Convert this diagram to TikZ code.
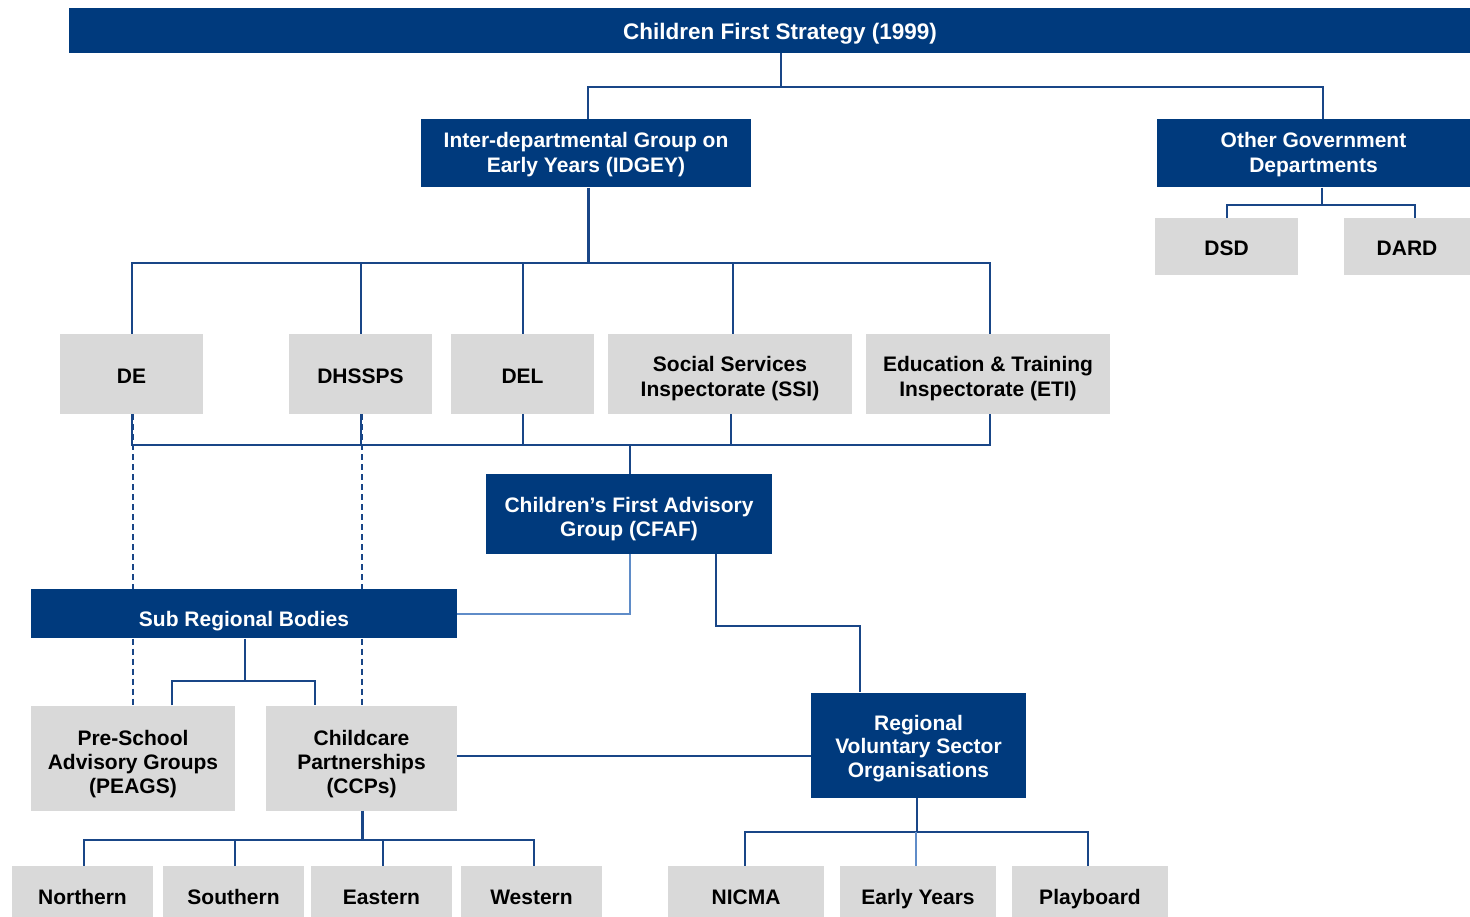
\documentclass[tikz,border=0pt]{standalone}
\usepackage{fontspec}
\setmainfont{Liberation Sans}
\definecolor{navy}{RGB}{0,58,125}
\definecolor{lgray}{RGB}{217,217,217}
\definecolor{lnc}{RGB}{25,70,135}
\definecolor{ltb}{RGB}{95,140,200}
\newcommand\ntx[2]{\raisebox{-#1}[0pt][0pt]{\begin{tabular}[t]{@{}c@{}}#2\end{tabular}}}
\begin{document}
\begin{tikzpicture}[x=1pt,y=-1pt,
  bx/.style={rectangle, inner sep=0pt, font=\fontsize{21}{24.5}\selectfont\bfseries},
  dk/.style={bx, fill=navy, text=white},
  gr/.style={bx, fill=lgray, text=black},
  ln/.style={draw=lnc, line width=2pt},
  tk/.style={draw=lnc, line width=3pt},
  lt/.style={draw=ltb, line width=2pt},
  dsh/.style={draw=lnc, line width=2pt, dash pattern=on 6pt off 4pt}]
\useasboundingbox (0,0) rectangle (1470,917);
% nodes
\node[dk, minimum width=1401pt, minimum height=45pt, font=\fontsize{22.5}{26}\selectfont\bfseries] (title) at (769.5,30.8) {\ntx{9.2pt}{\hspace*{21pt}Children First Strategy (1999)}};
\node[dk, minimum width=330pt, minimum height=68pt, font=\fontsize{21}{25}\selectfont\bfseries] (idgey) at (586,153.5) {\ntx{-6pt}{Inter-departmental Group on\\Early Years (IDGEY)}};
\node[dk, minimum width=313pt, minimum height=68pt, font=\fontsize{21}{25}\selectfont\bfseries] (ogd) at (1313.5,153.5) {\ntx{-6pt}{Other Government\\Departments}};
\node[gr, minimum width=143pt, minimum height=57pt] (dsd) at (1226.5,246.5) {\ntx{9pt}{DSD}};
\node[gr, minimum width=126pt, minimum height=57pt] (dard) at (1407,246.5) {\ntx{9pt}{DARD}};
\node[gr, minimum width=143pt, minimum height=80pt] (de) at (131.5,374) {\ntx{9.8pt}{DE}};
\node[gr, minimum width=143pt, minimum height=80pt] (dhss) at (360.5,374) {\ntx{9.8pt}{DHSSPS}};
\node[gr, minimum width=143pt, minimum height=80pt] (del) at (522.5,374) {\ntx{9.8pt}{DEL}};
\node[gr, minimum width=244pt, minimum height=80pt, font=\fontsize{21}{25}\selectfont\bfseries] (ssi) at (730,374) {\ntx{-3pt}{Social Services\\Inspectorate (SSI)}};
\node[gr, minimum width=244pt, minimum height=80pt, font=\fontsize{21}{25}\selectfont\bfseries] (eti) at (988,374) {\ntx{-3pt}{Education \& Training\\Inspectorate (ETI)}};
\node[dk, minimum width=286pt, minimum height=80pt, font=\fontsize{21}{23.5}\selectfont\bfseries] (cfaf) at (629,514) {\ntx{-1.5pt}{Children’s First Advisory\\Group (CFAF)}};
\node[dk, minimum width=426pt, minimum height=49pt] (srb) at (244,613.8) {\ntx{12.9pt}{Sub Regional Bodies}};
\node[gr, minimum width=204pt, minimum height=105pt, font=\fontsize{21}{24}\selectfont\bfseries] (peags) at (133,758) {\ntx{-12.3pt}{Pre-School\\Advisory Groups\\(PEAGS)}};
\node[gr, minimum width=191pt, minimum height=105pt, font=\fontsize{21}{24}\selectfont\bfseries] (ccps) at (361.5,758) {\ntx{-12.3pt}{Childcare\\Partnerships\\(CCPs)}};
\node[dk, minimum width=215pt, minimum height=105pt, font=\fontsize{21}{23.7}\selectfont\bfseries] (rvso) at (918.5,745) {\ntx{-15pt}{Regional\\Voluntary Sector\\Organisations}};
\node[gr, minimum width=156pt, minimum height=51pt] (nicma) at (746,891.5) {\ntx{13pt}{NICMA}};
\node[gr, minimum width=156pt, minimum height=51pt] (ey) at (918,891.5) {\ntx{13pt}{Early Years}};
\node[gr, minimum width=156pt, minimum height=51pt] (pb) at (1090,891.5) {\ntx{13pt}{Playboard}};
\node[gr, minimum width=141pt, minimum height=51pt] (north) at (82.5,891.5) {\ntx{13pt}{Northern}};
\node[gr, minimum width=141pt, minimum height=51pt] (south) at (233.5,891.5) {\ntx{13pt}{Southern}};
\node[gr, minimum width=141pt, minimum height=51pt] (east) at (381.5,891.5) {\ntx{13pt}{Eastern}};
\node[gr, minimum width=141pt, minimum height=51pt] (west) at (531.5,891.5) {\ntx{13pt}{Western}};
% coordinates
\coordinate (t1) at (781,87);
\coordinate (o1) at (1322,205);
\coordinate (b1) at (588,263);
\coordinate (b2) at (630,445);
\coordinate (c3) at (860,626);
\coordinate (s1) at (245,681);
\coordinate (v1) at (0,756);
\coordinate (r1) at (362,840);
\coordinate (e1) at (917,832);
% connectors
\draw[ln] (title.south -| t1) -- (t1);
\draw[ln] ([xshift=2pt]idgey.north) |- (t1) -| ([xshift=9.5pt]ogd.north);
\draw[ln] (ogd.south -| o1) -- (o1);
\draw[ln] (dsd.north) |- (o1) -| ([xshift=8pt]dard.north);
\draw[tk] (idgey.south -| b1) -- (b1);
\draw[ln] (de.north) |- (b1) -| ([xshift=2pt]eti.north);
\draw[ln] (dhss.north) -- (dhss.north |- b1);
\draw[ln] (del.north) -- (del.north |- b1);
\draw[ln] ([xshift=3pt]ssi.north) -- ([xshift=3pt]ssi.north |- b1);
\draw[ln] (de.south) |- (b2) -| ([xshift=2pt]eti.south);
\draw[ln] (dhss.south) -- (dhss.south |- b2);
\draw[ln] (del.south) -- (del.south |- b2);
\draw[ln] ([xshift=1pt]ssi.south) -- ([xshift=1pt]ssi.south |- b2);
\draw[ln] (b2) -- (b2 |- cfaf.north);
\draw[lt] ([xshift=1pt]cfaf.south) |- (srb.east);
\draw[ln] ([xshift=87pt]cfaf.south) |- (c3) -- (c3 |- rvso.north);
\draw[dsh] (peags.north |- de.south) -- (peags.north |- srb.north);
\draw[dsh] (peags.north |- srb.south) -- (peags.north);
\draw[dsh] (ccps.north |- dhss.south) -- (ccps.north |- srb.north);
\draw[dsh] (ccps.north |- srb.south) -- (ccps.north);
\draw[ln] (srb.south -| s1) -- (s1);
\draw[ln] ([xshift=39pt]peags.north) |- (s1) -| ([xshift=-46.5pt]ccps.north);
\draw[ln] (ccps.east |- v1) -- (rvso.west |- v1);
\draw[tk] (ccps.south -| r1) -- (r1);
\draw[ln] ([xshift=1.5pt]north.north) |- (r1) -| ([xshift=2.5pt]west.north);
\draw[ln] ([xshift=1.5pt]south.north) -- ([xshift=1.5pt]south.north |- r1);
\draw[ln] ([xshift=1.5pt]east.north) -- ([xshift=1.5pt]east.north |- r1);
\draw[ln] (rvso.south -| e1) -- (e1);
\draw[ln] ([xshift=-1pt]nicma.north) |- (e1) -| ([xshift=-2pt]pb.north);
\draw[lt] ([xshift=-2pt]ey.north) -- ([xshift=-2pt]ey.north |- e1);
\end{tikzpicture}
\end{document}
